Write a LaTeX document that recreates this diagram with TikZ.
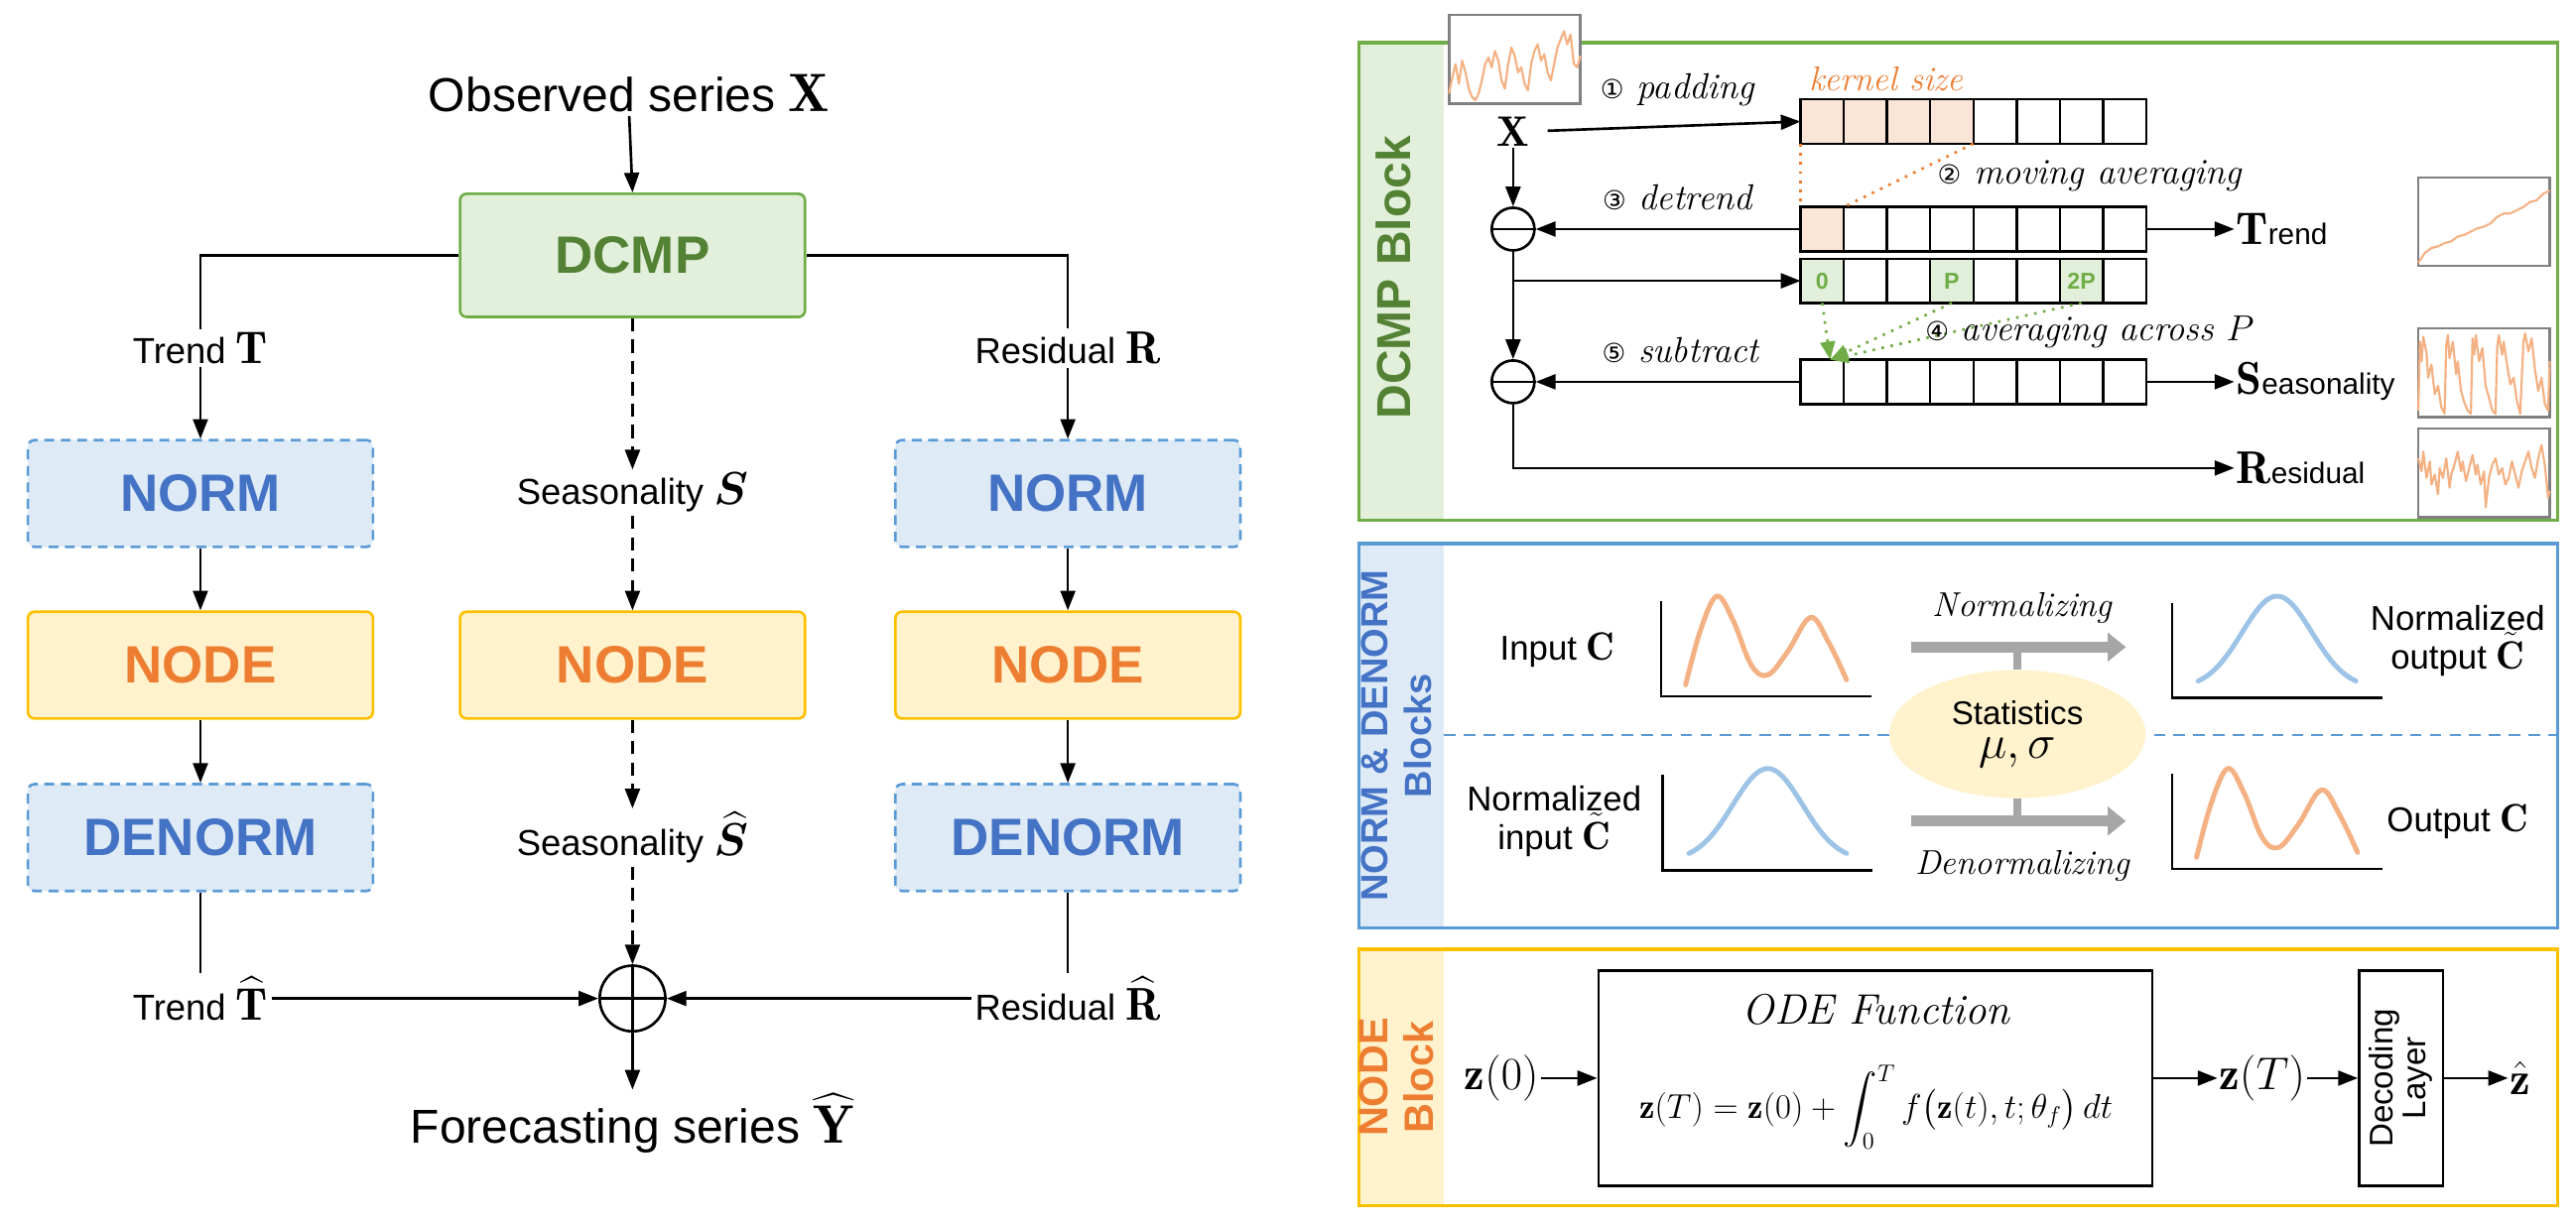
\RequirePackage{fix-cm}
\documentclass[tikz,border=0pt]{standalone}
\usepackage{amsmath,bm}
\usepackage{fontspec}
\setsansfont{Liberation Sans}
\newfontfamily\dejavu{DejaVu Sans}
\usetikzlibrary{arrows.meta,shapes.geometric,calc}
\definecolor{gborder}{HTML}{70AD47}
\definecolor{gfill}{HTML}{E2EFDA}
\definecolor{gtext}{HTML}{548235}
\definecolor{bborder}{HTML}{5B9BD5}
\definecolor{bfill}{HTML}{DEEBF7}
\definecolor{btext}{HTML}{4472C4}
\definecolor{yborder}{HTML}{FFC000}
\definecolor{yfill}{HTML}{FFF2CC}
\definecolor{otext}{HTML}{ED7D31}
\definecolor{ocurve}{HTML}{F4B183}
\definecolor{bcurve}{HTML}{9DC3E6}
\definecolor{kfill}{HTML}{FBE5D6}
\definecolor{garrow}{HTML}{A6A6A6}
\definecolor{thumbgray}{HTML}{808080}
\newcommand{\myfs}[1]{\fontsize{#1}{#1}\selectfont}
\newcommand{\circnum}[1]{{\dejavu\myfs{16}#1}}
\newcommand{\mth}[1]{{\myfs{28}$#1$}}
\newcommand{\thumbplot}[3]{%
  \begin{scope}[shift={(#1,#2)}]
    \draw[thumbgray, line width=1.5pt, fill=white] (0,0) rectangle (80,54);
    \draw[ocurve, line width=1.3pt, line join=round] plot coordinates {#3};
  \end{scope}}
\tikzset{
  conn/.style={line width=1.6pt},
  arr/.style={conn,-{Triangle[length=12pt,width=9pt]}},
  darr/.style={arr, dash pattern=on 8pt off 5pt},
  blockbox/.style={rounded corners=4pt, line width=1.6pt, minimum width=210pt,
     minimum height=65pt, font=\sffamily\bfseries\myfs{32}},
  dcmpbox/.style={blockbox, draw=gborder, fill=gfill, text=gtext, minimum height=75pt},
  normbox/.style={blockbox, draw=bborder, fill=bfill, text=btext, dash pattern=on 6pt off 4pt},
  nodebox/.style={blockbox, draw=yborder, fill=yfill, text=otext},
  lbl/.style={font=\sffamily\myfs{22}, inner sep=2pt},
  biglbl/.style={font=\sffamily\myfs{29}, inner sep=2pt},
  cell/.style={draw, line width=1.5pt, minimum width=26.3pt, minimum height=27pt, inner sep=0pt, outer sep=0pt},
  steplbl/.style={font=\itshape\myfs{22}, inner sep=1pt},
  outlbl/.style={anchor=west, inner sep=1pt},
  smalllbl/.style={font=\sffamily\myfs{21}, align=center, inner sep=1pt},
  axes/.style={line width=1.5pt},
  ocv/.style={ocurve, line width=3pt, line cap=round},
  bcv/.style={bcurve, line width=3pt, line cap=round},
  grayarr/.style={garrow, line width=6.5pt, -{Triangle[length=11pt,width=17pt]}},
  panel/.style={line width=2pt},
  striplbl/.style={rotate=90, font=\sffamily\bfseries, align=center}
}
\begin{document}
\begin{tikzpicture}[x=1pt,y=-1pt]
\useasboundingbox[fill=white] (0,0) rectangle (1568,747);

%================ LEFT PANEL ================
\node[biglbl] (obs) at (383,57) {Observed series {\myfs{33}$\mathbf{X}$}};
\node[dcmpbox] (dcmp) at (385,155.5) {DCMP};
\node[lbl] (trT) at (122,212) {Trend \mth{\mathbf{T}}};
\node[lbl] (resR) at (650,212) {Residual \mth{\mathbf{R}}};
\node[normbox] (norm1) at (122,300.5) {NORM};
\node[normbox] (norm2) at (650,300.5) {NORM};
\node[lbl] (seasS) at (385,300) {Seasonality \mth{\bm{S}}};
\node[nodebox] (node1) at (122,405) {NODE};
\node[nodebox] (node2) at (385,405) {NODE};
\node[nodebox] (node3) at (650,405) {NODE};
\node[normbox] (denorm1) at (122,510) {DENORM};
\node[normbox] (denorm2) at (650,510) {DENORM};
\node[lbl] (seasSh) at (385,510) {Seasonality \mth{\widehat{\bm{S}}}};
\node[lbl] (trTh) at (122,608) {Trend \mth{\widehat{\mathbf{T}}}};
\node[lbl] (resRh) at (650,608) {Residual \mth{\widehat{\mathbf{R}}}};
\node[circle, draw, line width=1.6pt, minimum size=40pt, inner sep=0pt] (plus) at (385,608) {};
\draw[conn] (plus.west) -- (plus.east) (plus.north) -- (plus.south);
\node[biglbl] (fc) at (385,684) {Forecasting series {\myfs{33}$\widehat{\mathbf{Y}}$}};

\coordinate (tl) at (122,155.5);
\coordinate (tr) at (650,155.5);
\draw[arr] (obs.south) -- (dcmp.north);
\draw[conn] (dcmp.west) -- (tl) -- (trT.north);
\draw[conn] (dcmp.east) -- (tr) -- (resR.north);
\draw[arr] (trT.south) -- (norm1.north);
\draw[arr] (resR.south) -- (norm2.north);
\draw[darr] (dcmp.south) -- (seasS.north);
\draw[arr] (norm1.south) -- (node1.north);
\draw[arr] (norm2.south) -- (node3.north);
\draw[darr] (seasS.south) -- (node2.north);
\draw[arr] (node1.south) -- (denorm1.north);
\draw[arr] (node3.south) -- (denorm2.north);
\draw[darr] (node2.south) -- (seasSh.north);
\draw[conn] (denorm1.south) -- (trTh.north);
\draw[conn] (denorm2.south) -- (resRh.north);
\draw[arr] (trTh.east) -- (plus.west);
\draw[arr] (resRh.west) -- (plus.east);
\draw[darr] (seasSh.south) -- (plus.north);
\draw[arr] (plus.south) -- (fc.north);

%================ RIGHT PANEL: DCMP ================
\fill[gfill] (827,26) rectangle (879,317);
\draw[gborder, panel] (827,26) rectangle (1557,317);
\node[striplbl, text=gtext, font=\sffamily\bfseries\myfs{29}] at (848,169) {DCMP Block};

\fill[bfill] (827,331) rectangle (879,565);
\draw[bborder, panel] (827,331) rectangle (1557,565);
\node[striplbl, text=btext, font=\sffamily\bfseries\myfs{23}\linespread{1.15}\selectfont] at (850,448) {NORM \& DENORM\\Blocks};

\fill[yfill] (827,578) rectangle (879,734);
\draw[yborder, panel] (827,578) rectangle (1557,734);
\node[striplbl, text=otext, font=\sffamily\bfseries\myfs{25}\linespread{1.1}\selectfont] at (850,656) {NODE\\Block};

% thumbnails
\thumbplot{882}{9}{(0,48) (2,38) (4,30) (6,42) (8,28) (10,35) (12,45) (14,50) (16,52) (18,48) (20,40) (22,30) (24,26) (26,32) (28,22) (30,28) (32,40) (34,45) (36,30) (38,20) (40,25) (42,35) (44,32) (46,42) (48,46) (50,30) (52,22) (54,18) (56,28) (58,24) (60,35) (62,40) (64,30) (66,20) (68,15) (70,10) (72,18) (74,12) (76,30) (78,32) (80,25)}
\thumbplot{1472}{108}{(0,52) (4,46) (8,43) (12,42) (16,40) (20,39) (24,36) (28,35) (32,33) (36,31) (40,30) (44,28) (48,24) (52,22) (56,22) (60,20) (64,18) (68,15) (72,14) (76,10) (80,8)}
\thumbplot{1472}{200}{(0,50) (1,8) (2,20) (3,5) (5,15) (6,30) (8,22) (10,40) (12,35) (14,48) (16,52) (17,10) (18,4) (19,18) (21,8) (23,28) (24,20) (26,38) (28,45) (30,50) (32,52) (33,6) (34,16) (35,4) (37,20) (39,12) (41,35) (43,42) (45,50) (47,52) (48,12) (49,4) (51,16) (52,8) (54,22) (56,34) (58,30) (60,44) (62,52) (64,8) (65,3) (67,14) (69,6) (71,25) (73,38) (75,30) (77,46) (79,50) (80,20)}
\thumbplot{1472}{261}{(0,18) (2,26) (3,14) (5,30) (7,20) (8,34) (10,28) (12,40) (13,24) (15,30) (17,18) (19,36) (20,28) (22,22) (24,14) (26,26) (27,20) (29,32) (31,24) (33,16) (35,28) (36,22) (38,34) (40,26) (41,48) (43,30) (45,22) (47,18) (49,28) (51,24) (53,34) (55,30) (57,20) (59,28) (61,36) (63,26) (65,20) (67,14) (69,24) (71,30) (73,18) (75,10) (77,22) (79,42) (80,38)}

% fills of cells
\fill[kfill] (1096,60.5) rectangle (1201.2,87.5);
\fill[kfill] (1096,126) rectangle (1122.3,153);
\fill[gfill] (1096,157.5) rectangle (1122.3,184.5);
\fill[gfill] (1174.9,157.5) rectangle (1201.2,184.5);
\fill[gfill] (1253.8,157.5) rectangle (1280.1,184.5);
\foreach \r/\yy in {1/74,2/139.5,3/171,4/232.5}{
  \foreach \c in {1,...,8}{
    \node[cell] (r\r-\c) at ({1096+(\c-0.5)*26.3},\yy) {};
  }
}
\foreach \c/\t in {1/0,4/P,7/2P}{
  \node[font=\sffamily\bfseries\myfs{14}, text=gborder, inner sep=0pt] at (r3-\c) {\t};
}
\node[font=\itshape\myfs{21}, text=otext, inner sep=1pt] (ks) at (1148,48) {kernel size};

\node[font=\myfs{26}, inner sep=1pt] (xlab) at (921,80) {$\mathbf{X}$};
\node[circle, draw, line width=1.6pt, minimum size=26pt, inner sep=0pt] (m1) at (921,139.5) {};
\draw[conn] (m1.west) -- (m1.east);
\node[circle, draw, line width=1.6pt, minimum size=26pt, inner sep=0pt] (m2) at (921,232.5) {};
\draw[conn] (m2.west) -- (m2.east);

\node[outlbl] (trlab) at (1360,139.5) {\myfs{28}$\mathbf{T}$\sffamily\myfs{18}rend};
\node[outlbl] (sealab) at (1360,232.5) {\myfs{28}$\mathbf{S}$\sffamily\myfs{18}easonality};
\node[outlbl] (reslab) at (1360,285) {\myfs{28}$\mathbf{R}$\sffamily\myfs{18}esidual};

\draw[arr, shorten <=10pt] (xlab.east) -- (r1-1.west);
\draw[arr] (xlab.south) -- (m1.north);
\draw[arr] (r2-1.west) -- (m1.east);
\draw[arr] (r2-8.east) -- (trlab.west);
\draw[arr] (m1.south) -- (m2.north);
\coordinate (br) at (921,171);
\draw[arr] (br) -- (r3-1.west);
\draw[arr] (r4-1.west) -- (m2.east);
\draw[arr] (r4-8.east) -- (sealab.west);
\draw[arr] (m2.south) |- (reslab.west);

\draw[otext, line width=1.6pt, dash pattern=on 1.6pt off 4pt] (r1-1.south west) -- (r2-1.north west);
\draw[otext, line width=1.6pt, dash pattern=on 1.6pt off 4pt] (r1-4.south east) -- (r2-1.north east);
\coordinate (tgt) at (1114,219);
\foreach \c in {1,4,7}{
  \draw[gborder, line width=1.6pt, dash pattern=on 1.6pt off 4pt, -{Triangle[length=11pt,width=9pt]}] (r3-\c.south) -- (tgt);
}

\node[steplbl] (s1) at (1021,55) {\circnum{①} padding};
\node[steplbl] (s2) at (1272,107) {\circnum{②} moving averaging};
\node[steplbl] (s3) at (1021,120) {\circnum{③} detrend};
\node[steplbl] (s4) at (1272,202) {\circnum{④} averaging across $P$};
\node[steplbl] (s5) at (1023,213) {\circnum{⑤} subtract};

%================ RIGHT PANEL: NORM ================
\draw[bborder, line width=1.6pt, dash pattern=on 7pt off 5pt] (879,447.5) -- (1557,447.5);
\node[ellipse, fill=yfill, minimum width=156pt, minimum height=78pt, inner sep=0pt, align=center] (stats) at (1228,447)
  {\sffamily\myfs{20}Statistics\\[7pt]\myfs{29}$\mu,\sigma$};
\coordinate (na1) at (1163,394);
\coordinate (na2) at (1294,394);
\coordinate (da1) at (1163,500);
\coordinate (da2) at (1294,500);
\draw[garrow, line width=5pt] (stats.north) -- (stats.north |- na1);
\draw[garrow, line width=5pt] (stats.south) -- (stats.south |- da1);
\draw[grayarr] (na1) -- (na2);
\draw[grayarr] (da1) -- (da2);
\node[font=\itshape\myfs{21}] (nz) at (1231,370) {Normalizing};
\node[font=\itshape\myfs{21}] (dnz) at (1231,527) {Denormalizing};

% plots
\begin{scope}[shift={(1011,424)}]
  \draw[axes] (0,-58) -- (0,0) -- (128,0);
  \draw[ocv] plot[smooth, tension=0.6] coordinates {(15,-7) (24,-40) (34,-61) (44,-46) (55,-19) (65,-13) (77,-27) (91,-48) (102,-33) (113,-10)};
\end{scope}
\begin{scope}[shift={(1322,529)}]
  \draw[axes] (0,-58) -- (0,0) -- (128,0);
  \draw[ocv] plot[smooth, tension=0.6] coordinates {(15,-7) (24,-40) (34,-61) (44,-46) (55,-19) (65,-13) (77,-27) (91,-48) (102,-33) (113,-10)};
\end{scope}
\begin{scope}[shift={(1322,425)}]
  \draw[axes] (0,-58) -- (0,0) -- (128,0);
  \draw[bcv] plot[domain=16:112, samples=60] (\x, {-6-56*exp(-((\x-64)/30)^2)});
\end{scope}
\begin{scope}[shift={(1012,530)}]
  \draw[axes] (0,-58) -- (0,0) -- (128,0);
  \draw[bcv] plot[domain=16:112, samples=60] (\x, {-6-56*exp(-((\x-64)/30)^2)});
\end{scope}
\node[smalllbl] (inC) at (948,396) {Input {\myfs{24}$\mathbf{C}$}};
\node[smalllbl] (noutC) at (1496,390) {Normalized\\output {\myfs{24}$\tilde{\mathbf{C}}$}};
\node[smalllbl] (ninC) at (946,500) {Normalized\\input {\myfs{24}$\tilde{\mathbf{C}}$}};
\node[smalllbl] (outC) at (1496,500) {Output {\myfs{24}$\mathbf{C}$}};

%================ RIGHT PANEL: NODE ================
\node[draw, line width=1.6pt, minimum width=337pt, minimum height=131pt, inner sep=0pt] (ode) at (1141.5,656.5) {};
\node[font=\itshape\myfs{26}] (odet) at (1142,615) {ODE Function};
\node[font=\myfs{21}] (eq) at (1142,674) {$\mathbf{z}(T)=\mathbf{z}(0)+\displaystyle\int_0^T f\big(\mathbf{z}(t),t;\theta_f\big)\,dt$};
\node[font=\myfs{28}, inner sep=1pt] (z0) at (914,656.5) {$\mathbf{z}(0)$};
\node[font=\myfs{28}, inner sep=1pt] (zT) at (1377,656.5) {$\mathbf{z}(T)$};
\node[draw, line width=1.6pt, minimum width=51pt, minimum height=131pt, inner sep=0pt] (dec) at (1461.5,656.5) {};
\node[rotate=90, align=center, font=\sffamily\myfs{20}] at (dec.center) {Decoding\\Layer};
\node[font=\myfs{28}, inner sep=1pt] (zh) at (1534,656.5) {$\hat{\mathbf{z}}$};
\draw[arr] (z0.east) -- (ode.west);
\draw[arr] (ode.east) -- (zT.west);
\draw[arr] (zT.east) -- (dec.west);
\draw[arr] (dec.east) -- (zh.west);
\end{tikzpicture}
\end{document}
